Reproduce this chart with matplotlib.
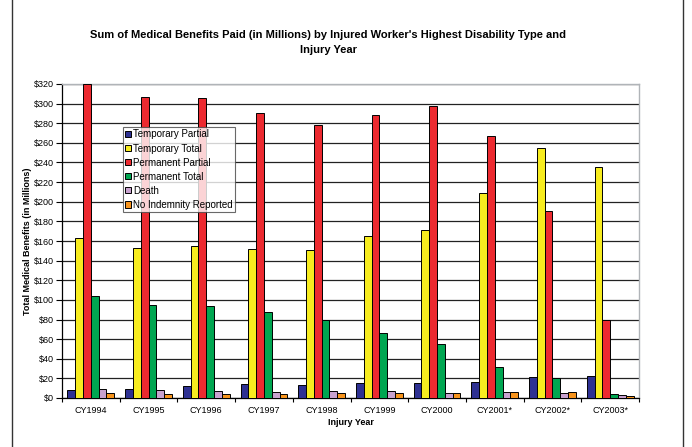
import numpy as np
import matplotlib
matplotlib.use('Agg')
import matplotlib.pyplot as plt
from matplotlib.lines import Line2D

plt.rcParams['font.family'] = ['Liberation Sans', 'DejaVu Sans']

years = ['CY1994', 'CY1995', 'CY1996', 'CY1997', 'CY1998', 'CY1999',
         'CY2000', 'CY2001*', 'CY2002*', 'CY2003*']
temp_partial = [8, 9.5, 12, 14, 13.5, 15, 15, 16, 21, 22]
temp_total = [163, 153, 155, 152, 151, 165, 171, 209, 255, 235]
perm_partial = [320, 307, 306, 290, 278, 288, 298, 267, 191, 79]
perm_total = [104, 95, 94, 87.5, 79.5, 66.5, 55.5, 31.5, 20, 4.5]
death = [9, 8, 7.5, 6, 7, 7.5, 5, 6, 5.5, 3.5]
no_indemnity = [4.8, 4.4, 4, 4.4, 5, 4.8, 4.8, 6, 6.3, 2]

names = ['Temporary Partial', 'Temporary Total', 'Permanent Partial',
         'Permanent Total', 'Death', 'No Indemnity Reported']
series = [temp_partial, temp_total, perm_partial, perm_total, death, no_indemnity]
colors = ['#2E3192', '#F7EC1F', '#EC2A30', '#00A651', '#C8A2CF', '#F7941D']

fig = plt.figure(figsize=(6.92, 4.47), dpi=100)
ax = fig.add_axes([62/692, 1-398/447, (639-62)/692, (398-84)/447])

x = np.arange(len(years))
w = 0.81/6
for i, (vals, c, n) in enumerate(zip(series, colors, names)):
    ax.bar(x - 0.405 + w*(i+0.5), vals, w, color=c, edgecolor='black',
           linewidth=0.7, label=n, zorder=3)

ax.set_xlim(-0.5, len(years)-0.5)
ax.set_ylim(0, 320)
ax.set_yticks(np.arange(0, 321, 20))
ax.set_yticklabels(['$%d' % v for v in range(0, 321, 20)], fontsize=6.5)
ax.set_xticks(x)
ax.set_xticklabels(years, fontsize=6.5)
ax.set_xticks(np.arange(-0.5, len(years), 1), minor=True)
ax.tick_params(axis='x', which='major', length=0, pad=6)
ax.tick_params(axis='x', which='minor', length=3, width=0.8, direction='out')
ax.tick_params(axis='y', length=4, width=0.8, direction='out', pad=2)
ax.grid(axis='y', color='#222222', linewidth=0.9, zorder=0)
ax.set_axisbelow(True)
for s in ['top', 'right']:
    ax.spines[s].set_color('#B0B4B8')
    ax.spines[s].set_linewidth(1.0)
for s in ['left', 'bottom']:
    ax.spines[s].set_color('black')
    ax.spines[s].set_linewidth(0.9)

ax.set_ylabel('Total Medical Benefits (in Millions)', fontsize=6.5,
              fontweight='bold', labelpad=1)
ax.set_xlabel('Injury Year', fontsize=6.5, fontweight='bold', labelpad=2)

leg = ax.legend(loc='upper left', bbox_to_anchor=((123-62)/577, (398-127)/314),
                fontsize=7, frameon=True, fancybox=False, handlelength=0.6,
                handleheight=0.6, handletextpad=0.2, borderpad=0.25,
                labelspacing=0.42, borderaxespad=0)
leg.get_frame().set_edgecolor('#444444')
leg.get_frame().set_linewidth(0.8)

fig.text(328/692, 1-35/447,
         "Sum of Medical Benefits Paid (in Millions) by Injured Worker's Highest Disability Type and",
         ha='center', va='center', fontsize=8, fontweight='bold')
fig.text(328/692, 1-50/447, 'Injury Year', ha='center', va='center',
         fontsize=8, fontweight='bold')

fig.add_artist(Line2D([12/692, 12/692], [0, 1], color='#333333', linewidth=1.0))
fig.add_artist(Line2D([683/692, 683/692], [0, 1], color='#333333', linewidth=1.0))

fig.savefig('out.png', dpi=100)
